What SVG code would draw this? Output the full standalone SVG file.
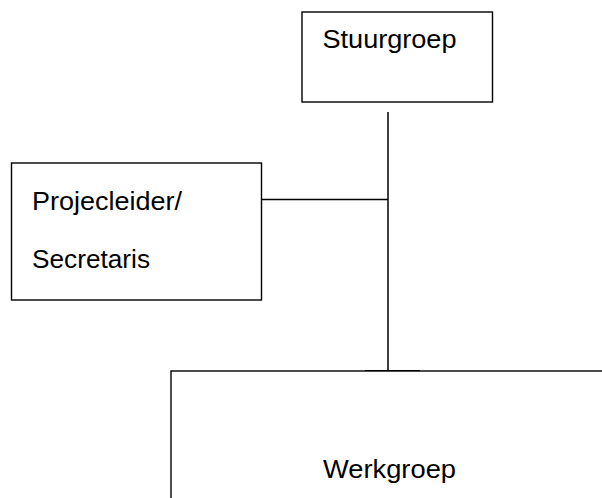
<svg xmlns="http://www.w3.org/2000/svg" width="602" height="498" viewBox="0 0 602 498">
<style>
.box{fill:#fff;stroke:#000;stroke-width:1.4}
.ln{stroke:#000;stroke-width:1.5;fill:none}
.t{font-family:"Liberation Sans",Arial,sans-serif;font-size:26px;fill:#000}
</style>
<rect width="602" height="498" fill="#fff"/>
<g id="connectors">
<line class="ln" x1="388" y1="112" x2="388" y2="371"/>
<line class="ln" x1="262" y1="199.5" x2="388" y2="199.5"/>
<line class="ln" x1="365" y1="371" x2="420" y2="371" style="stroke-width:2.2"/>
</g>
<g id="stuurgroep">
<rect class="box" x="302" y="12" width="190.5" height="90"/>
<text class="t" x="322.5" y="48.3" textLength="134" lengthAdjust="spacingAndGlyphs">Stuurgroep</text>
</g>
<g id="projecleider">
<rect class="box" x="11.5" y="163" width="250" height="137"/>
<text class="t" x="32" y="210" textLength="150" lengthAdjust="spacingAndGlyphs">Projecleider/</text>
<text class="t" x="32" y="268" textLength="118" lengthAdjust="spacingAndGlyphs">Secretaris</text>
</g>
<g id="werkgroep">
<rect class="box" x="171" y="371" width="440" height="140"/>
<text class="t" x="323" y="478" textLength="133" lengthAdjust="spacingAndGlyphs">Werkgroep</text>
</g>
</svg>
